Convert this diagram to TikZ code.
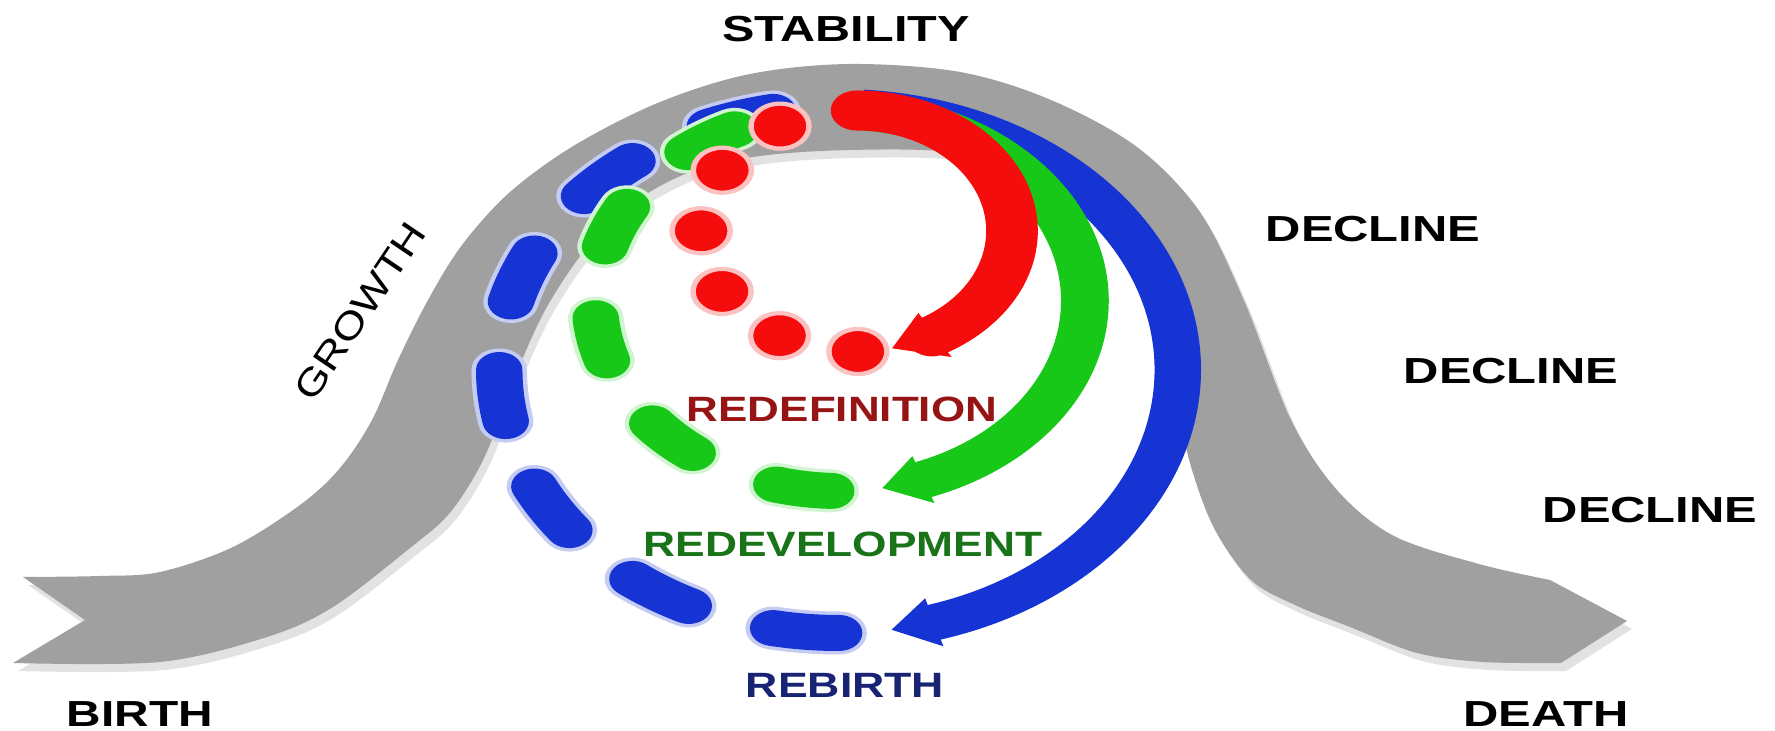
\documentclass[tikz,border=0pt]{standalone}
\usepackage{fontspec}
\setmainfont{Liberation Sans}
\usepackage{graphicx}
\definecolor{bandgray}{RGB}{160,160,160}
\definecolor{bandshadow}{RGB}{226,226,226}
\definecolor{cred}{RGB}{245,12,12}
\definecolor{cgreen}{RGB}{24,200,24}
\definecolor{cblue}{RGB}{22,52,212}
\definecolor{tred}{RGB}{150,20,20}
\definecolor{tgreen}{RGB}{25,115,25}
\definecolor{tblue}{RGB}{25,35,115}
\tikzset{
  lab/.style={font=\bfseries\fontsize{10.3}{12}\selectfont, inner sep=0pt, anchor=base},
  clab/.style={font=\bfseries\fontsize{10}{12}\selectfont, inner sep=0pt, anchor=base},
  bdash/.style={draw=cblue, line width=0.36cm, line cap=round,
    preaction={draw=cblue!25, line width=0.43cm, line cap=round}},
  gdash/.style={draw=cgreen, line width=0.36cm, line cap=round,
    preaction={draw=cgreen!20, line width=0.43cm, line cap=round}},
  rdot/.style={fill=cred, draw=cred!25, line width=1.2pt},
  barrow/.style={draw=cblue, line width=0.36cm},
  garrow/.style={draw=cgreen, line width=0.37cm},
  rarrow/.style={draw=cred, line width=0.40cm, line cap=round}
}
\newcommand\ringarc[5]{\draw[#1] (#2) ++({-(#4)}:#3) arc[start angle={-(#4)}, end angle={-(#5)}, radius=#3];}
\newcommand\bandpath{plot[smooth,tension=0.55] coordinates {(23,577) (100,576) (160,572) (233,547) (300,505) (340,468) (372,420) (398,360) (428,300) (462,245) (510,192) (575,145) (660,102) (750,74) (850,64) (960,72) (1051,100) (1137,147) (1200,212) (1245,303) (1291,420) (1337,490) (1394,536) (1479,564) (1550,580)} -- (1627,621) -- plot[smooth,tension=0.55] coordinates {(1561,663) (1483,662) (1417,653) (1350,627) (1295,605) (1251,580) (1215,530) (1192,470) (1175,400) (1152,310) (1120,250) (1085,210) (1030,172) (950,152) (850,150) (760,156) (690,172) (630,205) (585,250) (548,305) (522,360) (500,420) (478,470) (448,515) (410,548) (333,607) (267,637) (160,662) (13,663)} -- (85,620) -- cycle}
\begin{document}
\begin{tikzpicture}[x=0.01cm,y=-0.01cm]
\useasboundingbox (0,0) rectangle (1775,731);
% grey life-cycle band
\fill[bandshadow, shift={(5,8)}] \bandpath;
\fill[bandgray] \bandpath;
% rings (drawn in an unstretched frame, stretched horizontally)
\begin{scope}[transform canvas={xscale=1.29}]
  \foreach \c in {264.5,238.2,211.9,185.6,159.3,133.0,106.7}
    {\ringarc{bdash}{650,370}{263}{\c-5.6}{\c+5.6}}
  \ringarc{barrow}{650,370}{263}{86}{-74.6}
  \fill[cblue] (650,370) +(73.6:288) -- +(81:263) -- +(73.6:238) -- cycle;
  \foreach \c in {261.5,226.6,191.7,156.8,121.9}
    {\ringarc{gdash}{651,301}{190}{\c-6.5}{\c+6.5}}
  \ringarc{garrow}{651,301}{190}{86}{-71}
  \fill[cgreen] (651,301) +(70.05:215) -- +(80:190) -- +(70.05:165) -- cycle;
  \foreach \a in {270.5,240.3,210.1,179.9,149.7,119.5}
    {\filldraw[rdot] (664,231) ++({-\a}:120.5) circle[radius=22.5];}
  \ringarc{rarrow}{664,231}{120.5}{90}{-61}
  \fill[cred] (664,231) +(59.7:146) -- +(76.8:120.5) -- +(59.7:95) -- cycle;
\end{scope}
% labels
\node[lab] (stability) at (846,42) {\scalebox{1.34}[1]{STABILITY}};
\node[lab] (decline1) at (1373,242) {\scalebox{1.35}[1]{DECLINE}};
\node[lab] (decline2) at (1511,384) {\scalebox{1.35}[1]{DECLINE}};
\node[lab] (decline3) at (1650,523) {\scalebox{1.35}[1]{DECLINE}};
\node[lab] (death) at (1546,727) {\scalebox{1.35}[1]{DEATH}};
\node[lab] (birth) at (140,727) {\scalebox{1.32}[1]{BIRTH}};
\node[font=\fontsize{10.5}{12}\selectfont, inner sep=0pt, rotate=56] (growth) at (360,311) {\scalebox{1.22}[1]{GROWTH}};
\node[clab, text=tred] (redef) at (842,422) {\scalebox{1.25}[1]{REDEFINITION}};
\node[clab, text=tgreen] (redev) at (843,557) {\scalebox{1.26}[1]{REDEVELOPMENT}};
\node[clab, text=tblue] (rebirth) at (845,698) {\scalebox{1.27}[1]{REBIRTH}};
\end{tikzpicture}
\end{document}
